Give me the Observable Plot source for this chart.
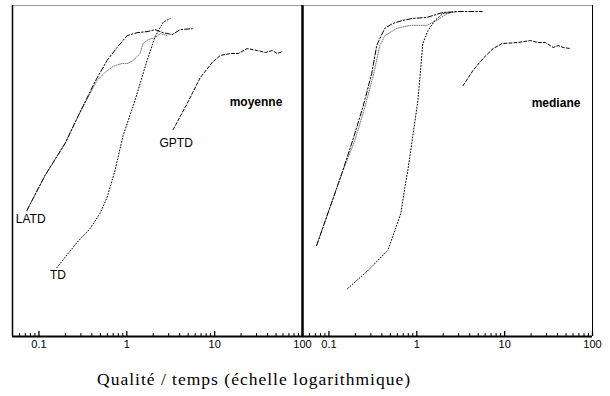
<!DOCTYPE html>
<html><head><meta charset="utf-8">
<script src="https://cdn.jsdelivr.net/npm/d3@7"></script>
<script src="https://cdn.jsdelivr.net/npm/@observablehq/plot@0.6"></script>
<style>
body{margin:0;background:#fff;}
#wrap{position:relative;width:610px;height:396px;overflow:hidden;}
#wrap svg{position:absolute;top:0;}
#caption{position:absolute;top:369px;left:97px;font-family:"Liberation Serif",serif;font-size:17.5px;letter-spacing:1.0px;color:#000;white-space:nowrap;}
</style></head><body><div id="wrap"></div>
<script>
// x: temps (log), y: qualité (0..1)
const moyLatdT = [0.073,0.117,0.198,0.293,0.435,0.596,0.775,1.01,1.31,1.70,2.10,2.59,3.29,4.05,5.55];
const moyLatdQ = [0.381,0.486,0.583,0.677,0.770,0.834,0.873,0.909,0.918,0.921,0.927,0.918,0.912,0.927,0.930];
const moyAutreT = [0.073,0.117,0.198,0.293,0.458,0.566,0.697,0.884,1.03,1.18,1.42,1.53,1.75,2.10,2.40,2.88];
const moyAutreQ = [0.381,0.486,0.583,0.677,0.773,0.798,0.816,0.825,0.825,0.834,0.855,0.885,0.897,0.903,0.915,0.909];
const moyTdT = [0.160,0.271,0.382,0.496,0.596,0.735,0.907,1.24,1.70,2.10,2.59,3.12];
const moyTdQ = [0.208,0.284,0.326,0.372,0.420,0.502,0.607,0.713,0.834,0.906,0.949,0.961];
const moyGptdT = [3.37,4.87,6.85,9.39,11.6,15.1,18.6,23.5,30.6,37.8,45.4,51.7,59.0];
const moyGptdQ = [0.625,0.704,0.782,0.828,0.849,0.855,0.855,0.870,0.864,0.858,0.864,0.855,0.861];

const medLatdT = [0.0724,0.140,0.186,0.243,0.307,0.350,0.379,0.432,0.534,0.694,0.903,1.30,1.99,3.10,5.54];
const medLatdQ = [0.275,0.492,0.592,0.692,0.795,0.879,0.900,0.931,0.946,0.955,0.961,0.964,0.979,0.982,0.982];
const medAutreT = [0.0724,0.140,0.197,0.256,0.324,0.379,0.432,0.593,0.834,1.30,1.70,2.21,2.87];
const medAutreQ = [0.275,0.492,0.592,0.692,0.795,0.879,0.909,0.931,0.940,0.940,0.955,0.976,0.982];
const medTdT = [0.1635,0.277,0.468,0.562,0.658,0.731,0.791,1.03,1.11,1.17,1.34,1.61,1.99,2.52];
const medTdQ = [0.145,0.199,0.260,0.320,0.372,0.450,0.502,0.713,0.813,0.885,0.924,0.955,0.976,0.979];
const medGptdT = [3.36,4.37,5.68,7.39,9.37,13.9,19.6,24.1,29.0,33.1,35.8,40.8,46.5,55.9];
const medGptdQ = [0.758,0.804,0.840,0.870,0.885,0.888,0.894,0.888,0.888,0.879,0.873,0.879,0.873,0.870];

const labelNames = ["LATD","TD","GPTD"];
const labelT = [0.0806,0.1646,3.65];
const labelQ = [0.356,0.184,0.583];
const panelNames = ["moyenne","mediane"];
const panelT = [59,72.8];
const panelQ = [0.707,0.704];

const tickValues = [0.1,1,10,100];
const tickLabels = ["0.1","1","10","100"];
const minorTicks = [0.06,0.07,0.08,0.09,0.2,0.3,0.4,0.5,0.6,0.7,0.8,0.9,2,3,4,5,6,7,8,9,20,30,40,50,60,70,80,90];
const xDomain = [0.05,100];

const zip = (T,Q) => T.map((t,i)=>({t, q: Q[i]}));

function panel(series, idx, leftW, rightW, labels) {
  const marks = [
    Plot.line(zip(...series.autre), {x:"t", y:"q", stroke:"#777", strokeWidth:1, strokeDasharray:"1,1.3"}),
    Plot.line(zip(...series.latd), {x:"t", y:"q", stroke:"#000", strokeWidth:1, strokeDasharray:"5,2,1.5,2"}),
    Plot.line(zip(...series.td), {x:"t", y:"q", stroke:"#000", strokeWidth:1, strokeDasharray:"1,2"}),
    Plot.line(zip(...series.gptd), {x:"t", y:"q", stroke:"#000", strokeWidth:1, strokeDasharray:"3,2"}),
    Plot.ruleY([1], {stroke:"#999", strokeWidth:1}),
    Plot.ruleX([xDomain[0]], {stroke:"#000", strokeWidth:leftW}),
    Plot.ruleX([xDomain[1]], {stroke:"#000", strokeWidth:rightW}),
    Plot.tickX(minorTicks, {x:d=>d, stroke:"#000", strokeWidth:1, insetTop:328}),
    Plot.tickX(tickValues, {x:d=>d, stroke:"#000", strokeWidth:1.3, insetTop:326}),
    Plot.ruleY([0], {stroke:"#000", strokeWidth:2}),
    Plot.text(tickValues, {x:d=>d, text:(d,i)=>tickLabels[i], frameAnchor:"bottom", dy:11, fontSize:11}),
    Plot.text([panelNames[idx]], {x:()=>panelT[idx], y:()=>panelQ[idx], text:d=>d, textAnchor:"end", fontWeight:"bold", fontSize:12})
  ];
  if (labels) marks.push(Plot.text(labelNames, {x:(d,i)=>labelT[i], y:(d,i)=>labelQ[i], text:d=>d, fontSize:12}));
  return Plot.plot({
    width:320, height:360, marginLeft:12, marginRight:18, marginTop:5, marginBottom:24,
    x:{type:"log", domain:xDomain, axis:null},
    y:{domain:[0,1], axis:null},
    style:{background:"transparent", fontFamily:"'Liberation Sans', Arial, sans-serif", fontSize:"11px", color:"#000", overflow:"visible"},
    marks
  });
}

const wrap = document.getElementById("wrap");
const a = panel({latd:[moyLatdT,moyLatdQ], autre:[moyAutreT,moyAutreQ], td:[moyTdT,moyTdQ], gptd:[moyGptdT,moyGptdQ]}, 0, 1.5, 2, true);
a.style.left = "0px";
const b = panel({latd:[medLatdT,medLatdQ], autre:[medAutreT,medAutreQ], td:[medTdT,medTdQ], gptd:[medGptdT,medGptdQ]}, 1, 2, 1, false);
b.style.left = "290px";
wrap.appendChild(a);
wrap.appendChild(b);
const cap = document.createElement("div");
cap.id = "caption";
cap.textContent = "Qualité / temps (échelle logarithmique)";
wrap.appendChild(cap);
</script>
</body></html>
